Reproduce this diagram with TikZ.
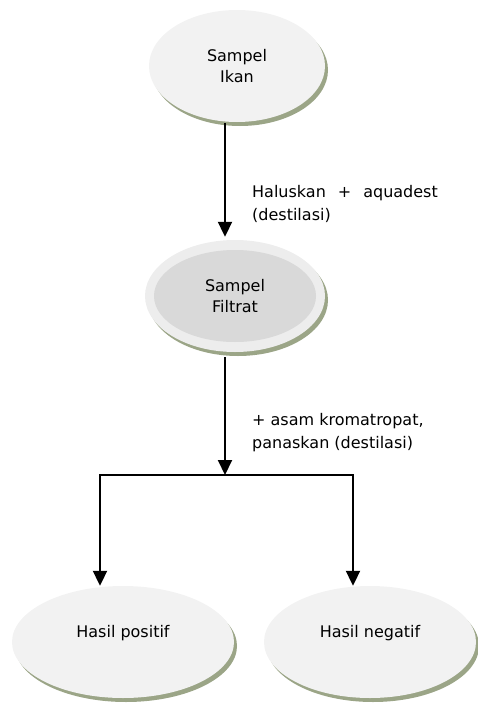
\documentclass[tikz,border=0pt]{standalone}
\usepackage{fontspec}
\setmainfont{DejaVu Sans}
\usetikzlibrary{shapes.geometric,arrows.meta,shadows}
\definecolor{lightfill}{HTML}{F2F2F2}
\definecolor{ringfill}{HTML}{EDEDED}
\definecolor{innerfill}{HTML}{D9D9D9}
\definecolor{shadowc}{RGB}{155,165,135}
\begin{document}
\begin{tikzpicture}[x=1pt,y=-1pt,
  every node/.style={font=\fontsize{16}{21}\selectfont},
  oval/.style={ellipse, inner sep=0pt, fill=lightfill, align=center,
    drop shadow={shadow xshift=3pt,shadow yshift=-4pt,fill=shadowc,opacity=1}},
  arr/.style={line width=2pt, -{Triangle[width=14pt,length=15pt]}},
  lbl/.style={anchor=north west, inner sep=0pt, align=left, font=\fontsize{16}{23.5}\selectfont}]
\useasboundingbox (0,0) rectangle (478,704);
\node[oval, minimum width=176pt, minimum height=112pt] (ikan) at (237,66) {Sampel\\Ikan};
\node[oval, fill=ringfill, minimum width=180pt, minimum height=112pt,
  path picture={\fill[innerfill] (path picture bounding box.center) ellipse (81pt and 46pt);}]
  (filtrat) at (235,296) {Sampel\\Filtrat};
\node[oval, minimum width=222pt, minimum height=112pt,
  label={[yshift=9pt]center:Hasil positif}] (positif) at (123,642) {};
\node[oval, minimum width=212pt, minimum height=112pt,
  label={[yshift=9pt]center:Hasil negatif}] (negatif) at (370,642) {};
\coordinate (j) at (225,475);
\coordinate (jl) at (100,475);
\coordinate (jr) at (353,475);
\draw[arr] ([yshift=-1pt]ikan.south -| j) -- ([yshift=3pt]filtrat.north -| j);
\draw[arr] ([yshift=-5pt]filtrat.south -| j) -- (j);
\draw[line width=2pt, line cap=rect] (jl) -- (jr);
\draw[arr] (jl) -- (jl |- positif.north);
\draw[arr] (jr) -- (jr |- negatif.north);
\node[lbl] (l1) at (252,185) {Haluskan\hspace{.75em}+\hspace{.75em}aquadest\\(destilasi)};
\node[lbl] (l2) at (252,413) {+ asam kromatropat,\\panaskan (destilasi)};
\end{tikzpicture}
\end{document}
